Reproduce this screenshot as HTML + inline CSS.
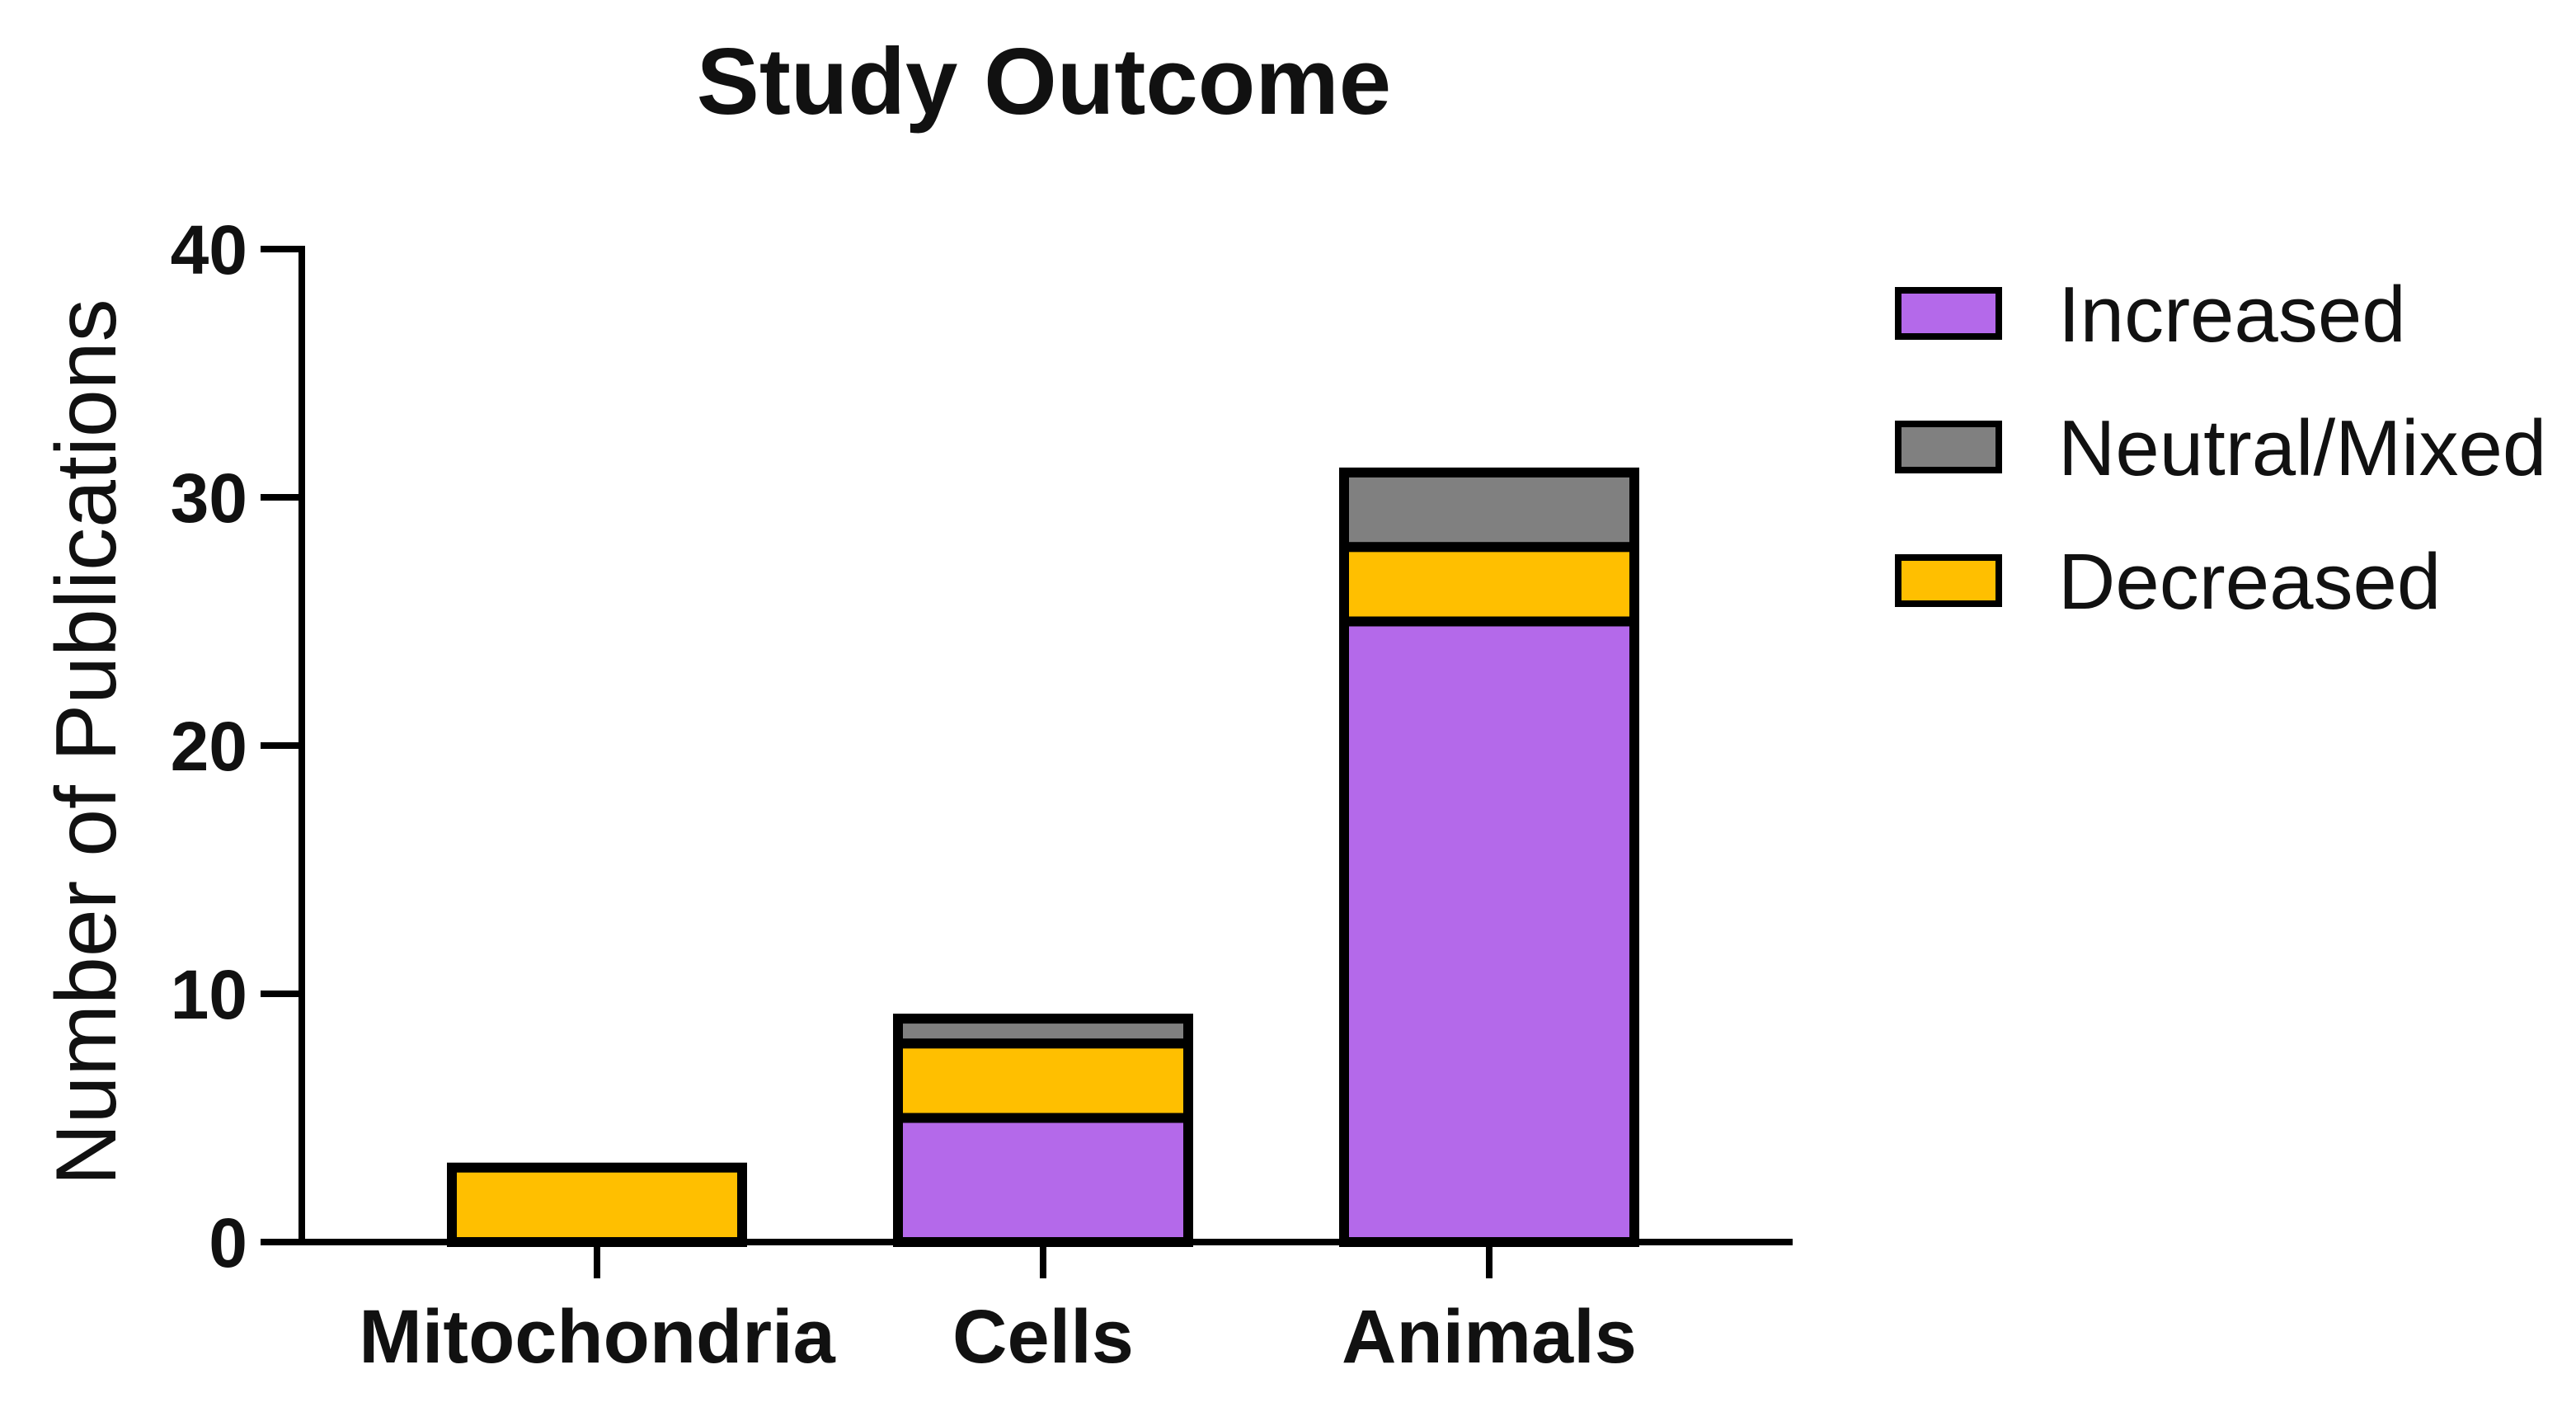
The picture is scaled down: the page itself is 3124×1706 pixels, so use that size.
<!DOCTYPE html>
<html><head><meta charset="utf-8"><style>
html,body{margin:0;padding:0;background:#fff;}
svg{display:block;font-family:"Liberation Sans",Arial,sans-serif;}
</style></head><body>
<svg id="chart" width="3124" height="1706" viewBox="0 0 3124 1706" xmlns="http://www.w3.org/2000/svg">
<text x="1266" y="138" text-anchor="middle" font-size="114" font-weight="bold" fill="#111">Study Outcome</text>
<text transform="translate(140,900) rotate(-90)" text-anchor="middle" font-size="104" fill="#111">Number of Publications</text>
<g id="bars"></g>
<g id="axes"></g>
<g id="legend"></g>
</svg>
<script>
const categories = ["Mitochondria","Cells","Animals"];
const increased = [0,5,25];
const decreased = [3,3,3];
const neutral = [0,1,3];
const yTicks = [0,10,20,30,40];
const seriesNames = ["Increased","Neutral/Mixed","Decreased"];

const NS="http://www.w3.org/2000/svg";
const x0=366, x1=2174, y0=1506, yTop=302, yMax=40;
const y=v=>y0-(v/yMax)*(y0-yTop);
const centers=[724,1266,1806];
const xc=i=>centers[0]+i*(centers[2]-centers[0])/(categories.length-1);
const bw=352;
function mk(tag,attrs,parent){const e=document.createElementNS(NS,tag);for(const k in attrs)e.setAttribute(k,attrs[k]);parent.appendChild(e);return e;}
const bars=document.getElementById('bars'),axes=document.getElementById('axes'),legend=document.getElementById('legend');
const colors={inc:"#B469EA",dec:"#FFBF00",neu:"#808080"};
categories.forEach((c,i)=>{
  const stack=[["inc",increased[i]],["dec",decreased[i]],["neu",neutral[i]]];
  let base=0;
  stack.forEach(([k,v])=>{
    if(v<=0)return;
    const r=mk('rect',{x:xc(i)-bw/2,y:y(base+v),width:bw,height:y(base)-y(base+v),fill:colors[k],stroke:"#000","stroke-width":12},bars);
    
    
    base+=v;
  });
  const t=mk('line',{x1:xc(i),x2:xc(i),y1:y0,y2:y0+44,stroke:"#000","stroke-width":8},axes);
  
  
  const l=mk('text',{x:xc(i),y:1652,"text-anchor":"middle","font-size":92,"font-weight":"bold",fill:"#111"},axes);
  l.textContent=c;
  
  
});
const ya=mk('line',{x1:x0,x2:x0,y1:yTop-4,y2:y0+4,stroke:"#000","stroke-width":8},axes);


const xa=mk('line',{x1:x0-4,x2:x1,y1:y0,y2:y0,stroke:"#000","stroke-width":8},axes);


yTicks.forEach(v=>{
  const t=mk('line',{x1:x0-50,x2:x0,y1:y(v),y2:y(v),stroke:"#000","stroke-width":8},axes);
  
  
  const l=mk('text',{x:x0-66,y:y(v)+30,"text-anchor":"end","font-size":84,"font-weight":"bold",fill:"#111"},axes);
  l.textContent=v;
  
  
});
const legCols=[colors.inc,colors.neu,colors.dec];
seriesNames.forEach((n,i)=>{
  const cy=380+i*162;
  const r=mk('rect',{x:2302,y:cy-28,width:122,height:56,fill:legCols[i],stroke:"#000","stroke-width":8},legend);
  
  
  const t=mk('text',{x:2496,y:cy+34,"font-size":96,fill:"#111"},legend);
  t.textContent=n;
  
  
});
</script>
</body></html>
